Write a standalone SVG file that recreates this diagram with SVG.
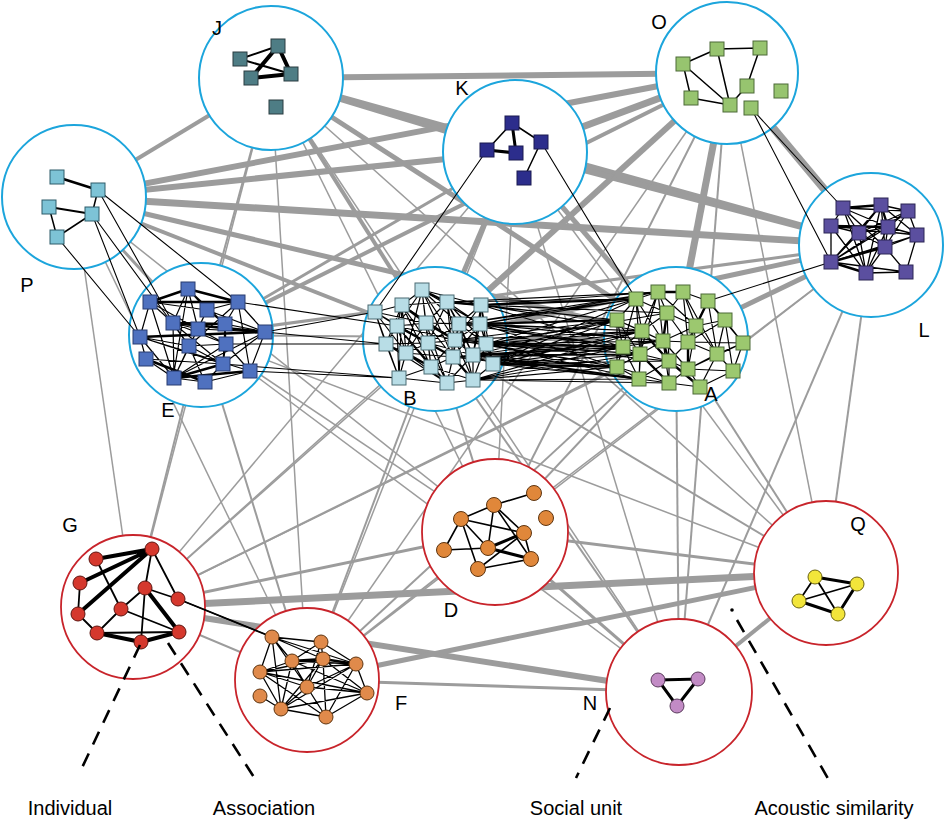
<svg xmlns="http://www.w3.org/2000/svg" width="946" height="821" viewBox="0 0 946 821">
<style>
.gl{stroke:#9c9c9c;fill:none;stroke-linecap:butt}
.bk{stroke:#000;fill:none}
.cb{fill:#fff;stroke:#1ca5dc;stroke-width:2}
.cr{fill:#fff;stroke:#c8242b;stroke-width:1.8}
.lb{font-family:"Liberation Sans",Arial,sans-serif;font-size:20px;fill:#000}
.dash{stroke:#000;stroke-width:2.6;stroke-dasharray:14 10;fill:none}
.nJ{fill:#4e7d85;stroke:#2a3c40}
.nK{fill:#2c2d8c;stroke:#1a1a50}
.nO{fill:#97c46f;stroke:#4c6a38}
.nP{fill:#7dc3d6;stroke:#2e5c6a}
.nE{fill:#4f71bf;stroke:#283c70}
.nB{fill:#b8dde6;stroke:#4b6b73}
.nA{fill:#9cc86f;stroke:#4c6a38}
.nL{fill:#5b4f9f;stroke:#2c2655}
.nD{fill:#e0873a;stroke:#5e3510}
.nG{fill:#d5382d;stroke:#5e1510}
.nF{fill:#e08a4b;stroke:#5e3510}
.nN{fill:#c28bc5;stroke:#5a3b5c}
.nQ{fill:#f2e53a;stroke:#6b6310}
</style>
<g id="connectors">
<g id="gray-links" class="gl">
<line x1="271" y1="78" x2="515" y2="152" stroke-width="6"/>
<line x1="271" y1="78" x2="727" y2="73" stroke-width="6"/>
<line x1="271" y1="78" x2="871" y2="245" stroke-width="6"/>
<line x1="271" y1="78" x2="676" y2="339" stroke-width="5"/>
<line x1="271" y1="78" x2="435" y2="339" stroke-width="4"/>
<line x1="271" y1="78" x2="74" y2="197" stroke-width="4"/>
<line x1="271" y1="78" x2="201" y2="335" stroke-width="2"/>
<line x1="271" y1="78" x2="495" y2="532" stroke-width="1.5"/>
<line x1="271" y1="78" x2="133" y2="607" stroke-width="1.5"/>
<line x1="271" y1="78" x2="307" y2="680" stroke-width="1.5"/>
<line x1="271" y1="78" x2="679" y2="692" stroke-width="1.5"/>
<line x1="271" y1="78" x2="826" y2="573" stroke-width="1.5"/>
<line x1="515" y1="152" x2="727" y2="73" stroke-width="7"/>
<line x1="515" y1="152" x2="74" y2="197" stroke-width="6"/>
<line x1="515" y1="152" x2="871" y2="245" stroke-width="6"/>
<line x1="515" y1="152" x2="676" y2="339" stroke-width="5"/>
<line x1="515" y1="152" x2="435" y2="339" stroke-width="5"/>
<line x1="515" y1="152" x2="201" y2="335" stroke-width="3"/>
<line x1="515" y1="152" x2="495" y2="532" stroke-width="1.5"/>
<line x1="515" y1="152" x2="679" y2="692" stroke-width="1.5"/>
<line x1="515" y1="152" x2="133" y2="607" stroke-width="1.5"/>
<line x1="515" y1="152" x2="307" y2="680" stroke-width="1.5"/>
<line x1="515" y1="152" x2="826" y2="573" stroke-width="1.5"/>
<line x1="727" y1="73" x2="74" y2="197" stroke-width="6"/>
<line x1="727" y1="73" x2="871" y2="245" stroke-width="8"/>
<line x1="727" y1="73" x2="676" y2="339" stroke-width="7"/>
<line x1="727" y1="73" x2="435" y2="339" stroke-width="6"/>
<line x1="727" y1="73" x2="201" y2="335" stroke-width="4"/>
<line x1="727" y1="73" x2="495" y2="532" stroke-width="2"/>
<line x1="727" y1="73" x2="679" y2="692" stroke-width="2"/>
<line x1="727" y1="73" x2="826" y2="573" stroke-width="1.5"/>
<line x1="727" y1="73" x2="307" y2="680" stroke-width="1.5"/>
<line x1="727" y1="73" x2="133" y2="607" stroke-width="1.5"/>
<line x1="74" y1="197" x2="871" y2="245" stroke-width="7"/>
<line x1="74" y1="197" x2="676" y2="339" stroke-width="5"/>
<line x1="74" y1="197" x2="435" y2="339" stroke-width="4"/>
<line x1="74" y1="197" x2="201" y2="335" stroke-width="3"/>
<line x1="74" y1="197" x2="133" y2="607" stroke-width="1.5"/>
<line x1="74" y1="197" x2="307" y2="680" stroke-width="1.5"/>
<line x1="74" y1="197" x2="495" y2="532" stroke-width="1.5"/>
<line x1="201" y1="335" x2="871" y2="245" stroke-width="3"/>
<line x1="201" y1="335" x2="676" y2="339" stroke-width="2"/>
<line x1="201" y1="335" x2="133" y2="607" stroke-width="2"/>
<line x1="201" y1="335" x2="307" y2="680" stroke-width="2"/>
<line x1="201" y1="335" x2="495" y2="532" stroke-width="1.5"/>
<line x1="201" y1="335" x2="679" y2="692" stroke-width="1.5"/>
<line x1="201" y1="335" x2="826" y2="573" stroke-width="1.5"/>
<line x1="435" y1="339" x2="871" y2="245" stroke-width="5"/>
<line x1="435" y1="339" x2="676" y2="339" stroke-width="4"/>
<line x1="435" y1="339" x2="495" y2="532" stroke-width="2"/>
<line x1="435" y1="339" x2="307" y2="680" stroke-width="2"/>
<line x1="435" y1="339" x2="679" y2="692" stroke-width="2"/>
<line x1="435" y1="339" x2="826" y2="573" stroke-width="2"/>
<line x1="435" y1="339" x2="133" y2="607" stroke-width="1.5"/>
<line x1="676" y1="339" x2="871" y2="245" stroke-width="5"/>
<line x1="676" y1="339" x2="495" y2="532" stroke-width="2"/>
<line x1="676" y1="339" x2="679" y2="692" stroke-width="2"/>
<line x1="676" y1="339" x2="826" y2="573" stroke-width="2"/>
<line x1="676" y1="339" x2="307" y2="680" stroke-width="2"/>
<line x1="676" y1="339" x2="133" y2="607" stroke-width="2"/>
<line x1="871" y1="245" x2="826" y2="573" stroke-width="2"/>
<line x1="871" y1="245" x2="679" y2="692" stroke-width="2"/>
<line x1="871" y1="245" x2="495" y2="532" stroke-width="1.5"/>
<line x1="871" y1="245" x2="307" y2="680" stroke-width="1.5"/>
<line x1="871" y1="245" x2="133" y2="607" stroke-width="1.5"/>
<line x1="133" y1="607" x2="826" y2="573" stroke-width="7"/>
<line x1="133" y1="607" x2="679" y2="692" stroke-width="6"/>
<line x1="133" y1="607" x2="495" y2="532" stroke-width="3"/>
<line x1="133" y1="607" x2="307" y2="680" stroke-width="2"/>
<line x1="307" y1="680" x2="826" y2="573" stroke-width="5"/>
<line x1="307" y1="680" x2="679" y2="692" stroke-width="3"/>
<line x1="307" y1="680" x2="495" y2="532" stroke-width="2"/>
<line x1="495" y1="532" x2="679" y2="692" stroke-width="3"/>
<line x1="495" y1="532" x2="826" y2="573" stroke-width="3"/>
<line x1="679" y1="692" x2="826" y2="573" stroke-width="4"/>
</g>
</g>
<g id="circles">
<circle id="cJ" class="cb" cx="271" cy="78" r="72"/>
<circle id="cK" class="cb" cx="515" cy="152" r="72"/>
<circle id="cO" class="cb" cx="727" cy="73" r="71"/>
<circle id="cP" class="cb" cx="74" cy="197" r="72"/>
<circle id="cE" class="cb" cx="201" cy="335" r="72"/>
<circle id="cB" class="cb" cx="435" cy="339" r="72"/>
<circle id="cA" class="cb" cx="676" cy="339" r="72"/>
<circle id="cL" class="cb" cx="871" cy="245" r="72"/>
<circle id="cD" class="cr" cx="495" cy="532" r="73"/>
<circle id="cG" class="cr" cx="133" cy="607" r="72"/>
<circle id="cF" class="cr" cx="307" cy="680" r="72"/>
<circle id="cN" class="cr" cx="679" cy="692" r="73"/>
<circle id="cQ" class="cr" cx="826" cy="573" r="72"/>
</g>
<g id="black-links" class="bk">
<path stroke-width="1.1" d="M487 150L375 312M541 142L636 299M751 108L843 208M751 108L831 262M831 262L708 301M98 190L238 302M98 190L173 323M92 214L140 337M92 214L189 346M57 237L140 337M265 332L375 312M265 332L386 344M250 371L399 378M238 302L397 326M226 344L386 344M223 364L399 378M178 599L272 637"/>
<path stroke-width="1.1" d="M481 305L636 299M481 305L617 320M480 324L642 331M480 324L623 347M480 324L636 299M486 344L617 320M486 344L642 331M486 344L640 354M486 344L617 367M493 364L623 347M493 364L639 379M493 364L640 354M473 355L617 367M473 355L623 347M473 380L639 379M473 380L617 367M473 380L669 383M455 340L617 320M455 340L623 347M455 340L642 331M459 324L617 320M459 324L636 299M459 324L658 292M447 302L636 299M447 302L658 292M453 357L617 367M453 357L640 354M453 357L639 379M473 355L642 331M486 344L663 341M480 324L663 341M493 364L669 361M486 344L667 313M481 305L658 292M455 340L640 354M473 380L640 354M473 355L663 341M480 324L640 354M493 364L642 331M486 344L639 379M481 305L667 313M493 364L617 320M493 364L636 299M486 344L636 299M481 305L623 347M481 305L642 331M480 324L617 367M473 355L617 320M473 380L623 347M473 380L642 331M455 340L617 367M453 357L623 347M459 324L623 347M493 364L663 341M486 344L669 361M473 355L640 354M459 324L642 331M447 302L617 320M493 364L617 367M480 324L658 292"/>
<path stroke-width="2.2" d="M486 344L623 347M493 364L617 367M480 324L617 320M473 355L639 379M481 305L636 299"/>
</g>
<g id="cluster-J">
<path class="bk" stroke-width="2" d="M240 59L278 46M240 59L291 74"/>
<path class="bk" stroke-width="4" d="M278 46L251 78M278 46L291 74M251 78L291 74"/>
<rect class="nJ" x="233" y="52" width="14" height="14"/>
<rect class="nJ" x="271" y="39" width="14" height="14"/>
<rect class="nJ" x="244" y="71" width="14" height="14"/>
<rect class="nJ" x="284" y="67" width="14" height="14"/>
<rect class="nJ" x="269" y="100" width="14" height="14"/>
</g>
<g id="cluster-K">
<path class="bk" stroke-width="1.5" d="M512 123L487 150M512 123L541 142M541 142L524 178"/>
<path class="bk" stroke-width="3" d="M512 123L516 153M487 150L516 153"/>
<rect class="nK" x="505" y="116" width="14" height="14"/>
<rect class="nK" x="480" y="143" width="14" height="14"/>
<rect class="nK" x="509" y="146" width="14" height="14"/>
<rect class="nK" x="534" y="135" width="14" height="14"/>
<rect class="nK" x="517" y="171" width="14" height="14"/>
</g>
<g id="cluster-O">
<path class="bk" stroke-width="1.5" d="M717 49L760 48M717 49L683 64M717 49L730 105M760 48L747 86M683 64L691 98M683 64L730 105M691 98L730 105M747 86L730 105"/>
<rect class="nO" x="710" y="42" width="14" height="14"/>
<rect class="nO" x="753" y="41" width="14" height="14"/>
<rect class="nO" x="676" y="57" width="14" height="14"/>
<rect class="nO" x="740" y="79" width="14" height="14"/>
<rect class="nO" x="774" y="84" width="14" height="14"/>
<rect class="nO" x="684" y="91" width="14" height="14"/>
<rect class="nO" x="723" y="98" width="14" height="14"/>
<rect class="nO" x="744" y="101" width="14" height="14"/>
</g>
<g id="cluster-P">
<path class="bk" stroke-width="2.6" d="M57 177L98 190"/>
<path class="bk" stroke-width="1.5" d="M98 190L92 214M57 237L92 214M49 207L57 237"/>
<path class="bk" stroke-width="2" d="M49 207L92 214"/>
<rect class="nP" x="50" y="170" width="14" height="14"/>
<rect class="nP" x="91" y="183" width="14" height="14"/>
<rect class="nP" x="42" y="200" width="14" height="14"/>
<rect class="nP" x="85" y="207" width="14" height="14"/>
<rect class="nP" x="50" y="230" width="14" height="14"/>
</g>
<g id="cluster-E">
<path class="bk" stroke-width="1.2" d="M188 289L173 323M188 289L207 310M188 289L198 329M150 302L173 323M150 302L140 337M150 302L174 378M238 302L207 310M238 302L265 332M238 302L250 371M207 310L198 329M207 310L225 324M173 323L189 346M173 323L174 378M173 323L198 329M225 324L265 332M225 324L226 344M225 324L223 364M198 329L189 346M198 329L226 344M140 337L146 359M140 337L174 378M140 337L189 346M189 346L174 378M189 346L223 364M189 346L205 382M226 344L250 371M226 344L223 364M146 359L174 378M223 364L205 382M265 332L250 371M265 332L223 364M174 378L205 382M205 382L250 371M140 337L223 364M207 310L265 332M198 329L265 332M238 302L225 324M189 346L226 344M173 323L226 344M150 302L198 329M188 289L225 324M174 378L226 344M146 359L223 364M150 302L207 310M188 289L173 378M238 302L189 346M265 332L174 378M140 337L250 371M173 323L223 364M207 310L174 378"/>
<path class="bk" stroke-width="2.5" d="M150 302L238 302M150 302L188 289M188 289L238 302M140 337L265 332M174 378L250 371M174 378L223 364M173 323L265 332M173 323L225 324M146 359L205 382"/>
<rect class="nE" x="181" y="282" width="14" height="14"/>
<rect class="nE" x="143" y="295" width="14" height="14"/>
<rect class="nE" x="231" y="295" width="14" height="14"/>
<rect class="nE" x="200" y="303" width="14" height="14"/>
<rect class="nE" x="166" y="316" width="14" height="14"/>
<rect class="nE" x="218" y="317" width="14" height="14"/>
<rect class="nE" x="191" y="322" width="14" height="14"/>
<rect class="nE" x="258" y="325" width="14" height="14"/>
<rect class="nE" x="133" y="330" width="14" height="14"/>
<rect class="nE" x="182" y="339" width="14" height="14"/>
<rect class="nE" x="219" y="337" width="14" height="14"/>
<rect class="nE" x="139" y="352" width="14" height="14"/>
<rect class="nE" x="216" y="357" width="14" height="14"/>
<rect class="nE" x="243" y="364" width="14" height="14"/>
<rect class="nE" x="167" y="371" width="14" height="14"/>
<rect class="nE" x="198" y="375" width="14" height="14"/>
</g>
<g id="cluster-B">
<path class="bk" stroke-width="1.2" d="M422 290L402 305M422 290L481 305M422 290L397 326M422 290L426 323M422 290L459 324M422 290L480 324M422 290L428 343M422 290L455 340M422 290L406 353M422 290L453 357M402 305L447 302M402 305L375 312M402 305L397 326M402 305L386 344M402 305L428 343M402 305L455 340M402 305L406 353M402 305L431 367M402 305L399 378M447 302L426 323M447 302L459 324M447 302L480 324M447 302L428 343M447 302L455 340M447 302L486 344M447 302L453 357M447 302L473 355M481 305L459 324M481 305L480 324M481 305L455 340M481 305L486 344M481 305L473 355M481 305L493 364M375 312L397 326M375 312L386 344M375 312L406 353M375 312L399 378M375 312L428 343M375 312L426 323M397 326L426 323M397 326L386 344M397 326L406 353M397 326L431 367M397 326L399 378M397 326L455 340M397 326L447 383M426 323L459 324M426 323L428 343M426 323L406 353M426 323L453 357M426 323L431 367M426 323L480 324M426 323L447 383M459 324L480 324M459 324L455 340M459 324L486 344M459 324L453 357M459 324L473 355M459 324L428 343M459 324L473 380M480 324L486 344M480 324L473 355M480 324L493 364M480 324L455 340M480 324L453 357M386 344L406 353M386 344L399 378M386 344L428 343M386 344L431 367M386 344L447 383M428 343L455 340M428 343L406 353M428 343L431 367M428 343L447 383M428 343L473 355M455 340L453 357M455 340L473 355M455 340L486 344M455 340L431 367M455 340L473 380M486 344L473 355M486 344L493 364M486 344L473 380M406 353L399 378M406 353L447 383M406 353L453 357M453 357L473 355M453 357L431 367M453 357L447 383M473 355L493 364M473 355L473 380M473 355L447 383M431 367L399 378M431 367L447 383M431 367L473 380M493 364L473 380M399 378L447 383M447 383L473 380"/>
<path class="bk" stroke-width="2.4" d="M422 290L447 302M447 302L481 305M426 323L455 340M428 343L453 357M453 357L473 380M397 326L428 343M406 353L431 367M402 305L426 323"/>
<rect class="nB" x="415" y="283" width="14" height="14"/>
<rect class="nB" x="395" y="298" width="14" height="14"/>
<rect class="nB" x="440" y="295" width="14" height="14"/>
<rect class="nB" x="474" y="298" width="14" height="14"/>
<rect class="nB" x="368" y="305" width="14" height="14"/>
<rect class="nB" x="390" y="319" width="14" height="14"/>
<rect class="nB" x="419" y="316" width="14" height="14"/>
<rect class="nB" x="452" y="317" width="14" height="14"/>
<rect class="nB" x="473" y="317" width="14" height="14"/>
<rect class="nB" x="379" y="337" width="14" height="14"/>
<rect class="nB" x="421" y="336" width="14" height="14"/>
<rect class="nB" x="448" y="333" width="14" height="14"/>
<rect class="nB" x="479" y="337" width="14" height="14"/>
<rect class="nB" x="399" y="346" width="14" height="14"/>
<rect class="nB" x="446" y="350" width="14" height="14"/>
<rect class="nB" x="466" y="348" width="14" height="14"/>
<rect class="nB" x="424" y="360" width="14" height="14"/>
<rect class="nB" x="486" y="357" width="14" height="14"/>
<rect class="nB" x="392" y="371" width="14" height="14"/>
<rect class="nB" x="440" y="376" width="14" height="14"/>
<rect class="nB" x="466" y="373" width="14" height="14"/>
</g>
<g id="cluster-A">
<path class="bk" stroke-width="1.2" d="M658 292L636 299M658 292L667 313M658 292L642 331M658 292L663 341M658 292L696 326M658 292L640 354M683 292L708 301M683 292L667 313M683 292L696 326M683 292L688 342M683 292L717 354M636 299L667 313M636 299L617 320M636 299L642 331M636 299L623 347M636 299L663 341M708 301L725 320M708 301L696 326M708 301L743 343M708 301L717 354M667 313L642 331M667 313L696 326M667 313L688 342M667 313L669 361M617 320L642 331M617 320L623 347M617 320L640 354M617 320L663 341M725 320L696 326M725 320L743 343M725 320L717 354M725 320L733 371M725 320L688 342M696 326L688 342M696 326L717 354M696 326L688 369M696 326L663 341M642 331L663 341M642 331L623 347M642 331L640 354M663 341L688 342M663 341L640 354M663 341L688 369M663 341L669 383M688 342L717 354M688 342L669 361M688 342L743 343M743 343L717 354M743 343L733 371M623 347L640 354M623 347L617 367M623 347L639 379M640 354L669 361M640 354L617 367M640 354L639 379M717 354L688 369M717 354L733 371M717 354L700 387M669 361L688 369M669 361L669 383M669 361L639 379M617 367L639 379M617 367L669 383M688 369L700 387M688 369L733 371M688 369L669 383M733 371L700 387M639 379L669 383M669 383L700 387M617 320L617 367M636 299L640 354M642 331L639 379M743 343L688 369"/>
<path class="bk" stroke-width="2.4" d="M658 292L683 292M667 313L663 341M663 341L669 361M640 354L669 383M669 361L700 387M642 331L669 361M688 342L688 369M708 301L688 342"/>
<rect class="nA" x="651" y="285" width="14" height="14"/>
<rect class="nA" x="676" y="285" width="14" height="14"/>
<rect class="nA" x="629" y="292" width="14" height="14"/>
<rect class="nA" x="701" y="294" width="14" height="14"/>
<rect class="nA" x="660" y="306" width="14" height="14"/>
<rect class="nA" x="610" y="313" width="14" height="14"/>
<rect class="nA" x="718" y="313" width="14" height="14"/>
<rect class="nA" x="689" y="319" width="14" height="14"/>
<rect class="nA" x="635" y="324" width="14" height="14"/>
<rect class="nA" x="656" y="334" width="14" height="14"/>
<rect class="nA" x="681" y="335" width="14" height="14"/>
<rect class="nA" x="736" y="336" width="14" height="14"/>
<rect class="nA" x="616" y="340" width="14" height="14"/>
<rect class="nA" x="633" y="347" width="14" height="14"/>
<rect class="nA" x="710" y="347" width="14" height="14"/>
<rect class="nA" x="662" y="354" width="14" height="14"/>
<rect class="nA" x="610" y="360" width="14" height="14"/>
<rect class="nA" x="681" y="362" width="14" height="14"/>
<rect class="nA" x="726" y="364" width="14" height="14"/>
<rect class="nA" x="632" y="372" width="14" height="14"/>
<rect class="nA" x="662" y="376" width="14" height="14"/>
<rect class="nA" x="693" y="380" width="14" height="14"/>
</g>
<g id="cluster-L">
<path class="bk" stroke-width="1.3" d="M843 208L908 211M843 208L831 226M843 208L859 233M843 208L888 227M843 208L885 247M881 205L908 211M881 205L859 233M881 205L917 235M881 205L885 247M908 211L888 227M908 211L917 235M908 211L859 233M831 226L859 233M831 226L917 235M831 226L831 262M859 233L888 227M859 233L885 247M859 233L831 262M859 233L866 273M888 227L917 235M888 227L885 247M888 227L866 273M888 227L831 262M917 235L885 247M917 235L906 272M885 247L866 273M885 247L906 272M831 262L881 205M831 262L908 211M831 262L906 272M866 273L906 272M866 273L881 205M843 208L866 273M831 226L866 273M908 211L885 247M917 235L831 262"/>
<path class="bk" stroke-width="2.4" d="M843 208L881 205M831 262L866 273M831 226L888 227M885 247L831 262M881 205L888 227"/>
<rect class="nL" x="836" y="201" width="14" height="14"/>
<rect class="nL" x="874" y="198" width="14" height="14"/>
<rect class="nL" x="901" y="204" width="14" height="14"/>
<rect class="nL" x="824" y="219" width="14" height="14"/>
<rect class="nL" x="852" y="226" width="14" height="14"/>
<rect class="nL" x="881" y="220" width="14" height="14"/>
<rect class="nL" x="910" y="228" width="14" height="14"/>
<rect class="nL" x="878" y="240" width="14" height="14"/>
<rect class="nL" x="824" y="255" width="14" height="14"/>
<rect class="nL" x="859" y="266" width="14" height="14"/>
<rect class="nL" x="899" y="265" width="14" height="14"/>
</g>
<g id="cluster-D">
<path class="bk" stroke-width="1.6" d="M494 505L534 493M494 505L461 519M494 505L488 548M494 505L524 533M494 505L531 559M461 519L444 550M461 519L524 533M461 519L478 569M461 519L488 548M444 550L488 548M524 533L531 559M524 533L478 569M478 569L531 559"/>
<path class="bk" stroke-width="3" d="M488 548L524 533M488 548L531 559"/>
<circle class="nD" cx="534" cy="493" r="7.5"/>
<circle class="nD" cx="494" cy="505" r="7.5"/>
<circle class="nD" cx="546" cy="518" r="7.5"/>
<circle class="nD" cx="461" cy="519" r="7.5"/>
<circle class="nD" cx="524" cy="533" r="7.5"/>
<circle class="nD" cx="444" cy="550" r="7.5"/>
<circle class="nD" cx="488" cy="548" r="7.5"/>
<circle class="nD" cx="531" cy="559" r="7.5"/>
<circle class="nD" cx="478" cy="569" r="7.5"/>
</g>
<g id="cluster-G">
<path class="bk" stroke-width="1.8" d="M152 549L145 588M152 549L178 599M80 583L78 614M78 614L97 633M96 559L121 609M145 588L121 609M145 588L178 599M145 588L141 642M121 609L97 633M121 609L179 632M97 633L179 632M178 599L272 637"/>
<path class="bk" stroke-width="4" d="M152 549L96 559M152 549L80 583M152 549L78 614M145 588L179 632M97 633L141 642M141 642L179 632"/>
<circle class="nG" cx="152" cy="549" r="7"/>
<circle class="nG" cx="96" cy="559" r="7"/>
<circle class="nG" cx="80" cy="583" r="7"/>
<circle class="nG" cx="145" cy="588" r="7"/>
<circle class="nG" cx="178" cy="599" r="7"/>
<circle class="nG" cx="78" cy="614" r="7"/>
<circle class="nG" cx="121" cy="609" r="7"/>
<circle class="nG" cx="97" cy="633" r="7"/>
<circle class="nG" cx="179" cy="632" r="7"/>
<circle class="nG" cx="141" cy="642" r="7"/>
</g>
<g id="cluster-F">
<path class="bk" stroke-width="1.3" d="M272 637L321 642M272 637L292 661M272 637L260 672M272 637L323 659M272 637L356 664M272 637L307 687M272 637L281 709M321 642L292 661M321 642L323 659M321 642L356 664M321 642L307 687M292 661L356 664M292 661L260 672M292 661L307 687M292 661L367 693M292 661L281 709M323 659L260 672M323 659L307 687M323 659L367 693M323 659L326 717M323 659L281 709M356 664L260 672M356 664L307 687M356 664L367 693M356 664L326 717M356 664L281 709M260 672L307 687M260 672L281 709M260 672L367 693M307 687L281 709M307 687L326 717M307 687L367 693M260 696L281 709M367 693L281 709M367 693L326 717M281 709L326 717M260 672L326 717"/>
<path class="bk" stroke-width="2.4" d="M292 661L323 659M323 659L356 664"/>
<circle class="nF" cx="272" cy="637" r="7"/>
<circle class="nF" cx="321" cy="642" r="7"/>
<circle class="nF" cx="292" cy="661" r="7"/>
<circle class="nF" cx="323" cy="659" r="7"/>
<circle class="nF" cx="356" cy="664" r="7"/>
<circle class="nF" cx="260" cy="672" r="7"/>
<circle class="nF" cx="307" cy="687" r="7"/>
<circle class="nF" cx="260" cy="696" r="7"/>
<circle class="nF" cx="367" cy="693" r="7"/>
<circle class="nF" cx="281" cy="709" r="7"/>
<circle class="nF" cx="326" cy="717" r="7"/>
</g>
<g id="cluster-N">
<path class="bk" stroke-width="3" d="M658 680L698 679L677 706Z"/>
<circle class="nN" cx="658" cy="680" r="7"/>
<circle class="nN" cx="698" cy="679" r="7"/>
<circle class="nN" cx="677" cy="706" r="7"/>
</g>
<g id="cluster-Q">
<path class="bk" stroke-width="1.8" d="M815 577L799 601M815 577L838 614M799 601L857 584"/>
<path class="bk" stroke-width="3" d="M815 577L857 584M799 601L838 614M857 584L838 614"/>
<circle class="nQ" cx="815" cy="577" r="7"/>
<circle class="nQ" cx="857" cy="584" r="7"/>
<circle class="nQ" cx="799" cy="601" r="7"/>
<circle class="nQ" cx="838" cy="614" r="7"/>
</g>
<g id="callouts">
<line class="dash" x1="140" y1="645" x2="80" y2="772"/>
<line class="dash" x1="168" y1="643" x2="257" y2="782"/>
<line class="dash" x1="610" y1="708" x2="576" y2="778"/>
<circle cx="732" cy="610" r="1.8" fill="#000"/>
<line class="dash" x1="737" y1="620" x2="830" y2="782"/>
</g>
<g id="labels" class="lb">
<text x="217" y="35" text-anchor="middle">J</text>
<text x="462" y="95" text-anchor="middle">K</text>
<text x="659" y="29" text-anchor="middle">O</text>
<text x="27" y="292" text-anchor="middle">P</text>
<text x="168" y="417" text-anchor="middle">E</text>
<text x="410" y="405" text-anchor="middle">B</text>
<text x="711" y="401" text-anchor="middle">A</text>
<text x="924" y="337" text-anchor="middle">L</text>
<text x="451" y="617" text-anchor="middle">D</text>
<text x="70" y="532" text-anchor="middle">G</text>
<text x="858" y="531" text-anchor="middle">Q</text>
<text x="401" y="710" text-anchor="middle">F</text>
<text x="590" y="710" text-anchor="middle">N</text>
<text x="70" y="815" text-anchor="middle">Individual</text>
<text x="264" y="815" text-anchor="middle">Association</text>
<text x="576" y="815" text-anchor="middle">Social unit</text>
<text x="834" y="815" text-anchor="middle">Acoustic similarity</text>
</g>
</svg>
